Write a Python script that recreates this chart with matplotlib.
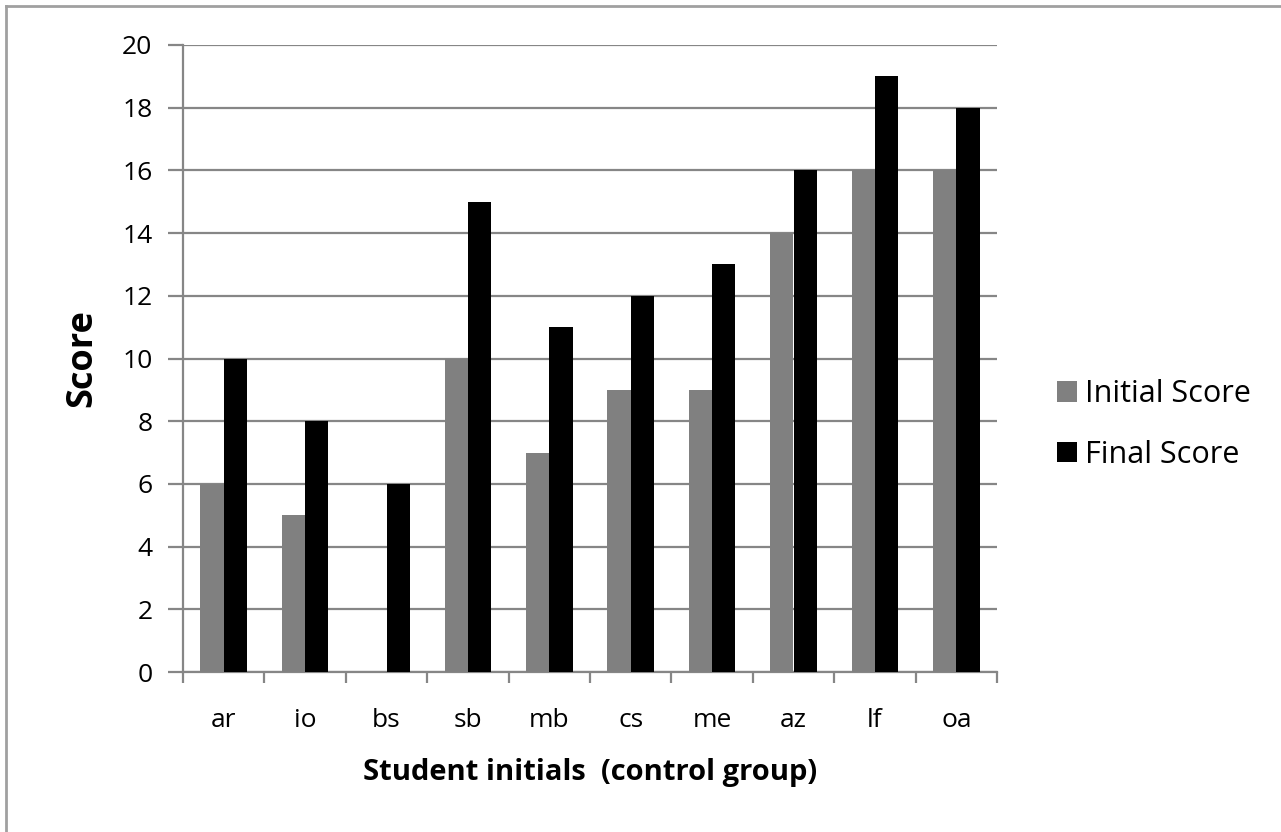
import numpy as np
import matplotlib.pyplot as plt
from matplotlib.lines import Line2D

students = ['ar', 'io', 'bs', 'sb', 'mb', 'cs', 'me', 'az', 'lf', 'oa']
initial_score = [6, 5, 0, 10, 7, 9, 9, 14, 16, 16]
final_score = [10, 8, 6, 15, 11, 12, 13, 16, 19, 18]

plt.rcParams['font.family'] = ['Open Sans', 'DejaVu Sans']

fig = plt.figure(figsize=(12.81, 8.32), dpi=100)
ax = fig.add_axes([183/1281, 1-672/832, (997-183)/1281, (672-45)/832])

x = np.arange(len(students))
w = 1/3.5
ax.bar(x - w/2, initial_score, w, color='#808080', label='Initial Score', zorder=3)
ax.bar(x + w/2, final_score, w, color='#000000', label='Final Score', zorder=3)

ax.set_xlim(-0.5, len(students) - 0.5)
ax.set_ylim(0, 20)
ax.set_yticks(range(0, 21, 2))
ax.yaxis.grid(True, color='#868686', linewidth=1.6, zorder=0)
ax.set_xticks(np.arange(-0.5, len(students), 1))
ax.set_xticklabels([])
ax.set_xticks(x, minor=True)
ax.set_xticklabels(students, minor=True)
ax.tick_params(axis='x', which='major', length=8, width=1.6, color='#868686', direction='out')
ax.tick_params(axis='x', which='minor', length=0, pad=26, labelsize=19)
ax.tick_params(axis='y', length=11, width=1.6, color='#868686', labelsize=19, pad=11)

for s in ['top', 'right']:
    ax.spines[s].set_visible(False)
for s in ['left', 'bottom']:
    ax.spines[s].set_color('#868686')
    ax.spines[s].set_linewidth(1.6)

ax.set_ylabel('Score', fontsize=26, fontweight='bold', labelpad=16)
ax.set_xlabel('Student initials  (control group)', fontsize=21, fontweight='bold', labelpad=18)

ax.legend(loc='center left', bbox_to_anchor=(1.055, 0.395), frameon=False, fontsize=22,
          handlelength=0.65, handleheight=0.65, handletextpad=0.25, labelspacing=1.0,
          borderpad=0)

# chart border (only left and top edges visible in the crop)
fig.add_artist(Line2D([6/1281, 6/1281], [0, 1-6/832], color='#a0a0a0', linewidth=2))
fig.add_artist(Line2D([6/1281, 1], [1-6/832, 1-6/832], color='#a0a0a0', linewidth=2))

plt.savefig('out.png', dpi=100)
